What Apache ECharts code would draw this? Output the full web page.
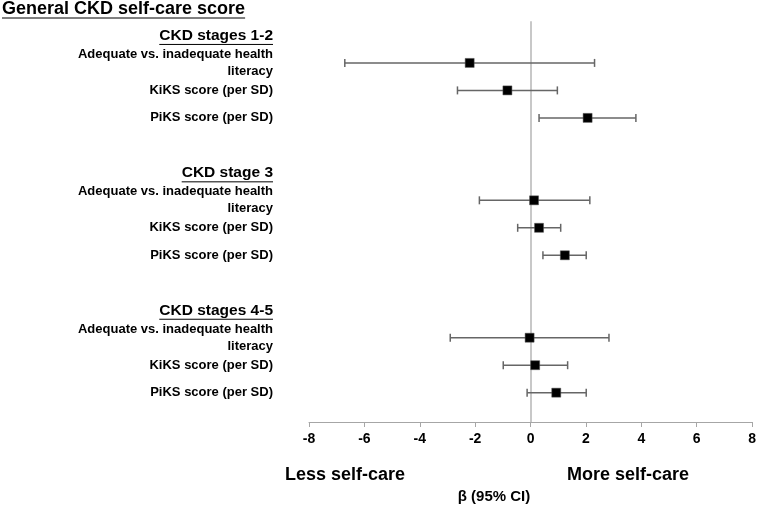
<!DOCTYPE html>
<html>
<head>
<meta charset="utf-8">
<script src="https://cdn.jsdelivr.net/npm/echarts@6/dist/echarts.min.js"></script>
<style>html,body{margin:0;padding:0;background:#fff;}#c{width:759px;height:506px;}</style>
</head>
<body>
<div id="c"></div>
<script>
// ---- data ----
var title = 'General CKD self-care score';
var groups = ['CKD stages 1-2', 'CKD stage 3', 'CKD stages 4-5'];
var measures = ['Adequate vs. inadequate health\nliteracy', 'KiKS score (per SD)', 'PiKS score (per SD)'];
var beta  = [-2.21, -0.85, 2.04,   0.11, 0.29, 1.22,   -0.05, 0.15, 0.91];
var lower = [-6.71, -2.65, 0.29,  -1.86, -0.48, 0.43,  -2.91, -1.00, -0.14];
var upper = [ 2.29,  0.95, 3.78,   2.12, 1.07, 1.99,    2.81, 1.32, 1.99];
var xTicks = [-8, -6, -4, -2, 0, 2, 4, 6, 8];
var leftNote = 'Less self-care';
var rightNote = 'More self-care';
var xTitle = 'β (95% CI)';

// ---- build rows ----
var cats = [], headerIdx = [], rowIdx = [];
groups.forEach(function (g, gi) {
  headerIdx.push(cats.length);
  cats.push({ value: g, header: true });
  measures.forEach(function (m) { rowIdx.push(cats.length); cats.push({ value: m }); });
  if (gi < groups.length - 1) cats.push({ value: '' });
});
var catNames = cats.map(function (c, i) { return c.header ? '{h|' + c.value + '}' : c.value; });

var ciData = beta.map(function (b, i) { return [lower[i], upper[i], rowIdx[i]]; });
var ptData = beta.map(function (b, i) { return [b, rowIdx[i]]; });

var FONT = '"Liberation Sans", Arial, sans-serif';
var chart = echarts.init(document.getElementById('c'), null, { renderer: 'canvas' });

var GL = 309, GR = 6, SLOT = 27.48, TOPA = 21.7, HF = 15.5;
var option = {
  animation: false,
  backgroundColor: '#fff',
  grid: [
    { left: GL, right: GR, top: TOPA, height: SLOT * cats.length },
    { left: GL, right: GR, top: 22, bottom: 84 }
  ],
  xAxis: [
    { gridIndex: 0, type: 'value', min: -8, max: 8, interval: 2, show: false },
    { gridIndex: 1, type: 'value', min: xTicks[0], max: xTicks[xTicks.length - 1], interval: 2,
      axisLine: { show: true, onZero: false, lineStyle: { color: '#a6a6a6', width: 1 } },
      axisTick: { show: true, length: 5, lineStyle: { color: '#a6a6a6' } },
      splitLine: { show: false },
      axisLabel: { color: '#000', fontFamily: FONT, fontWeight: 'bold', fontSize: 14, margin: 10 } }
  ],
  yAxis: [
    { gridIndex: 0, type: 'category', inverse: true, data: catNames, boundaryGap: true,
      axisLine: { show: false }, axisTick: { show: false }, splitLine: { show: false },
      axisLabel: { interval: 0, margin: 36, color: '#000', fontFamily: FONT, fontWeight: 'bold',
        fontSize: 13, lineHeight: 17, align: 'right',
        rich: { h: { fontSize: HF, fontWeight: 'bold', fontFamily: FONT, color: '#000' } } } },
    { gridIndex: 1, type: 'value', min: 0, max: 1, axisLabel: { show: false }, axisTick: { show: false },
      splitLine: { show: false },
      axisLine: { show: true, onZero: true, lineStyle: { color: '#c8c8c8', width: 2 } } }
  ],
  series: [
    { type: 'custom', xAxisIndex: 0, yAxisIndex: 0, data: ciData, z: 3,
      renderItem: function (params, api) {
        var y = api.value(2);
        var a = api.coord([api.value(0), y]);
        var b = api.coord([api.value(1), y]);
        var st = { stroke: '#666666', lineWidth: 1.5 };
        return { type: 'group', children: [
          { type: 'line', shape: { x1: a[0], y1: a[1], x2: b[0], y2: b[1] }, style: st },
          { type: 'line', shape: { x1: a[0], y1: a[1] - 4, x2: a[0], y2: a[1] + 4 }, style: st },
          { type: 'line', shape: { x1: b[0], y1: b[1] - 4, x2: b[0], y2: b[1] + 4 }, style: st }
        ] };
      } },
    { type: 'scatter', xAxisIndex: 0, yAxisIndex: 0, data: ptData, symbol: 'rect', symbolSize: 9, z: 4,
      itemStyle: { color: '#000', borderColor: '#555', borderWidth: 0.5, opacity: 1 } }
  ]
};
chart.setOption(option);

// underlines and free texts
var cv = document.createElement('canvas').getContext('2d');
function tw(txt, size) { cv.font = 'bold ' + size + 'px ' + FONT; return cv.measureText(txt).width; }
var labelRight = GL - 36;
var gr = [];
headerIdx.forEach(function (hi) {
  var y = chart.convertToPixel({ yAxisIndex: 0 }, hi);
  var w = tw(cats[hi].value, HF);
  gr.push({ type: 'line', shape: { x1: labelRight - w, y1: y + 9, x2: labelRight, y2: y + 9 },
    style: { stroke: '#000', lineWidth: 1 } });
});
var tW = tw(title, 18);
gr.push({ type: 'text', left: 2, top: 0, style: { text: title, fill: '#000', font: 'bold 18px ' + FONT } });
gr.push({ type: 'line', shape: { x1: 2, y1: 18, x2: 2 + tW, y2: 18 }, style: { stroke: '#000', lineWidth: 1 } });
gr.push({ type: 'text', left: 285, top: 466, style: { text: leftNote, fill: '#000', font: 'bold 18px ' + FONT } });
gr.push({ type: 'text', left: 567, top: 466, style: { text: rightNote, fill: '#000', font: 'bold 18px ' + FONT } });
gr.push({ type: 'text', x: 494, y: 497, style: { text: xTitle, fill: '#000', font: 'bold 15px ' + FONT,
  textAlign: 'center', textVerticalAlign: 'middle' } });
chart.setOption({ graphic: gr });
</script>
</body>
</html>
